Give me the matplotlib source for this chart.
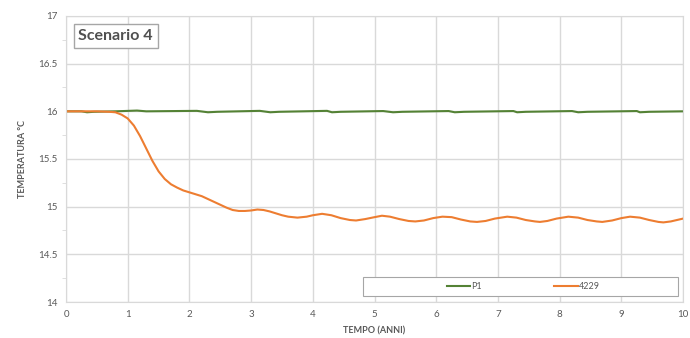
import matplotlib.pyplot as plt
from matplotlib.patches import Rectangle
from matplotlib.ticker import MultipleLocator

plt.rcParams['font.family'] = ['Lato', 'DejaVu Sans']

# P1 series (tempo in anni, temperatura in °C)
p1_t = [0, 0.25, 0.34, 0.45, 0.8, 1.15, 1.3, 2.12, 2.3, 2.45, 3.14, 3.31, 3.45,
        4.23, 4.31, 4.45, 5.14, 5.3, 5.45, 6.2, 6.3, 6.45, 7.25, 7.31, 7.45,
        8.2, 8.3, 8.45, 9.25, 9.3, 9.45, 10]
p1_temp = [16.0, 16.0, 15.99, 15.995, 16.0, 16.008, 16.0, 16.005, 15.99, 15.995, 16.005, 15.99, 15.995,
           16.005, 15.99, 15.995, 16.003, 15.99, 15.995, 16.003, 15.99, 15.995, 16.003, 15.99, 15.995,
           16.003, 15.99, 15.995, 16.003, 15.99, 15.995, 16.0]

# 4229 series
s4229_t = [0, 0.5, 0.7, 0.8, 0.9, 1.0, 1.1, 1.2, 1.3, 1.4, 1.5, 1.6, 1.7, 1.8, 1.9,
           2.0, 2.1, 2.2, 2.3, 2.4, 2.5, 2.6, 2.7, 2.8, 2.9, 3.0, 3.1, 3.2, 3.3, 3.4,
           3.5, 3.6, 3.75, 3.9, 4.0, 4.15, 4.3, 4.45, 4.6, 4.7, 4.85, 5.0, 5.12, 5.25,
           5.4, 5.55, 5.66, 5.8, 5.95, 6.1, 6.25, 6.4, 6.55, 6.66, 6.8, 6.95, 7.15,
           7.3, 7.45, 7.6, 7.68, 7.8, 7.95, 8.14, 8.3, 8.45, 8.6, 8.69, 8.85, 9.0,
           9.14, 9.3, 9.45, 9.6, 9.68, 9.8, 9.9, 10.0]
s4229_temp = [16.0, 16.0, 15.995, 15.99, 15.965, 15.925, 15.85, 15.74, 15.61, 15.48, 15.37, 15.29, 15.235, 15.20, 15.17,
              15.15, 15.13, 15.11, 15.08, 15.05, 15.02, 14.99, 14.965, 14.955, 14.955, 14.96, 14.97, 14.965, 14.95, 14.93,
              14.91, 14.895, 14.885, 14.895, 14.91, 14.925, 14.91, 14.88, 14.86, 14.855, 14.87, 14.89, 14.905, 14.895,
              14.87, 14.85, 14.845, 14.855, 14.88, 14.895, 14.89, 14.865, 14.845, 14.84, 14.85, 14.875, 14.895,
              14.885, 14.86, 14.845, 14.84, 14.85, 14.875, 14.895, 14.885, 14.86, 14.845, 14.84, 14.855, 14.88,
              14.895, 14.885, 14.86, 14.84, 14.835, 14.845, 14.86, 14.875]

grey = '#595959'
grid_c = '#d9d9d9'

fig = plt.figure(figsize=(6.9, 3.38), dpi=100)
ax = fig.add_axes([0.0957, 0.1065, 0.8943, 0.8462])

ax.plot(p1_t, p1_temp, color='#548235', lw=1.5, label='P1')
ax.plot(s4229_t, s4229_temp, color='#ED7D31', lw=1.5, label='4229')

ax.set_xlim(0, 10)
ax.set_ylim(14, 17)
ax.xaxis.set_major_locator(MultipleLocator(1))
ax.yaxis.set_major_locator(MultipleLocator(0.5))
ax.yaxis.set_minor_locator(MultipleLocator(0.25))
ax.yaxis.set_major_formatter(plt.FuncFormatter(lambda v, p: f'{v:g}'))
ax.grid(True, which='major', color=grid_c, lw=1)
ax.set_axisbelow(True)
for s in ax.spines.values():
    s.set_color(grid_c)
ax.tick_params(axis='both', which='major', length=0, labelsize=7, colors=grey, pad=6)
ax.tick_params(axis='y', which='minor', length=3, color=grid_c, direction='out')

ax.set_xlabel('TEMPO (ANNI)', fontsize=6.5, fontweight='bold', color=grey, labelpad=5)
ax.set_ylabel('TEMPERATURA °C', fontsize=6.5, fontweight='bold', color=grey, labelpad=8)

ax.text(0.02, 0.955, 'Scenario 4', transform=ax.transAxes, fontsize=11.5, fontweight='bold',
        color='#505050', va='top', ha='left',
        bbox=dict(boxstyle='square,pad=0.3', fc='white', ec='#a6a6a6', lw=1))

# legend frame
ax.add_patch(Rectangle((0.481, 0.021), 0.511, 0.066, transform=ax.transAxes,
                       fc='white', ec='#a6a6a6', lw=0.8, zorder=4))
leg = ax.legend(loc='center', bbox_to_anchor=(0.741, 0.054), ncol=2, fontsize=6.5,
                frameon=False, handlelength=2.6, handletextpad=0.1, columnspacing=8)
leg.set_zorder(5)
for t in leg.get_texts():
    t.set_color(grey)

fig.savefig('out.png', dpi=100)
